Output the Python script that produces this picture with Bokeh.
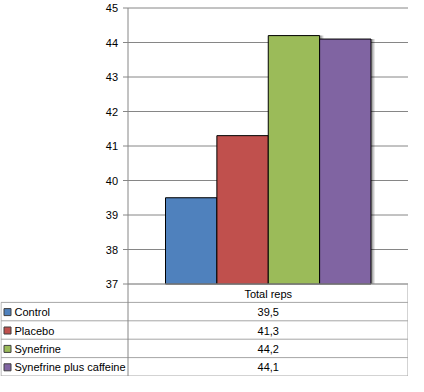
from bokeh.plotting import figure
from bokeh.models import Range1d
from bokeh.core.properties import value
from bokeh.embed import file_html
from bokeh.resources import INLINE

# ---- data ----
category = "Total reps"
names = ["Control", "Placebo", "Synefrine", "Synefrine plus caffeine"]
values = [39.5, 41.3, 44.2, 44.1]
colors = ["#4F81BD", "#C0504D", "#9BBB59", "#8064A2"]
y_ticks = [37, 38, 39, 40, 41, 42, 43, 44, 45]
y_min, y_max = 37, 45

FONT = "Liberation Sans"
GRID = "#868686"
BORDER = "#A6A6A6"

# ---- layout constants (pixels) ----
W, H = 408, 376
AX = 127.5            # y axis / table divider
TOP = 7.5             # pixel of y_max
PX_PER_UNIT = 34.5
BOTTOM = TOP + (y_max - y_min) * PX_PER_UNIT   # pixel of y_min
ROW_H = (H - 0.5 - BOTTOM) / (len(names) + 1)
PAD = 0.73            # category padding (in bar widths) each side
ncat = len(names)
unit_px = (W - AX) / (ncat + 2 * PAD)

p = figure(width=W, height=H, output_backend="svg", toolbar_location=None,
           x_range=Range1d(0, W), y_range=Range1d(H, 0), min_border=0)
p.outline_line_color = None
p.axis.visible = False
p.grid.grid_line_color = None
p.background_fill_color = "white"

# value scale and category scale mapped onto the chart area
p.extra_y_ranges = {"v": Range1d(y_min - (H - BOTTOM) / PX_PER_UNIT,
                                 y_max + TOP / PX_PER_UNIT)}
p.extra_x_ranges = {"c": Range1d(-PAD - AX / unit_px, ncat + PAD)}

# gridlines + tick marks + tick labels
p.segment(x0=[AX] * len(y_ticks), x1=[W] * len(y_ticks), y0=y_ticks, y1=y_ticks,
          y_range_name="v", line_color=GRID, line_width=1)
p.segment(x0=[AX - 5] * len(y_ticks), x1=[AX] * len(y_ticks), y0=y_ticks, y1=y_ticks,
          y_range_name="v", line_color=GRID, line_width=1)
p.text(x=[AX - 10] * len(y_ticks), y=y_ticks, text=[str(t) for t in y_ticks],
       y_range_name="v", text_font=value(FONT), text_font_size="11px",
       text_align="right", text_baseline="middle", text_color="#000000")

# bars with a soft shadow
xs = [i + 0.5 for i in range(ncat)]
for k, a in [(4, 0.10), (3, 0.12), (2, 0.15)]:
    p.vbar(x=[x + k / unit_px for x in xs], top=values, bottom=y_min, width=1.0,
           x_range_name="c", y_range_name="v", fill_color="#000000",
           fill_alpha=a, line_color=None)
p.vbar(x=xs, top=values, bottom=y_min, width=1.0, x_range_name="c", y_range_name="v",
       fill_color=colors, line_color="#000000", line_width=1)

# ---- data table ----
n_rows = ncat + 1
hy = [BOTTOM + i * ROW_H for i in range(n_rows + 1)]
hx0 = [AX] + [0.5] * n_rows
p.segment(x0=hx0, x1=[W - 0.5] * (n_rows + 1), y0=hy, y1=hy,
          line_color=BORDER, line_width=1)
p.segment(x0=[0.5, W - 0.5], x1=[0.5, W - 0.5], y0=[BOTTOM + ROW_H, BOTTOM],
          y1=[hy[-1], hy[-1]], line_color=BORDER, line_width=1)
# axis line continuing as table divider
p.segment(x0=[AX], x1=[AX], y0=[TOP], y1=[hy[-1]], line_color=GRID, line_width=1)

val_cx = (AX + W) / 2
p.text(x=[val_cx], y=[BOTTOM + ROW_H / 2 + 0.5], text=[category],
       text_font=value(FONT), text_font_size="11px", text_align="center",
       text_baseline="middle", text_color="#000000")
row_y = [BOTTOM + (i + 1.5) * ROW_H + 0.5 for i in range(ncat)]
p.scatter(x=[7] * ncat, y=row_y, marker="square", size=7,
          fill_color=colors, line_color="#404040", line_width=1)
p.text(x=[14] * ncat, y=row_y, text=names, text_font=value(FONT),
       text_font_size="11px", text_align="left", text_baseline="middle",
       text_color="#000000")
p.text(x=[val_cx] * ncat, y=row_y,
       text=[f"{v:.1f}".replace(".", ",") for v in values],
       text_font=value(FONT), text_font_size="11px", text_align="center",
       text_baseline="middle", text_color="#000000")

open("out.html", "w").write(file_html(p, INLINE))
